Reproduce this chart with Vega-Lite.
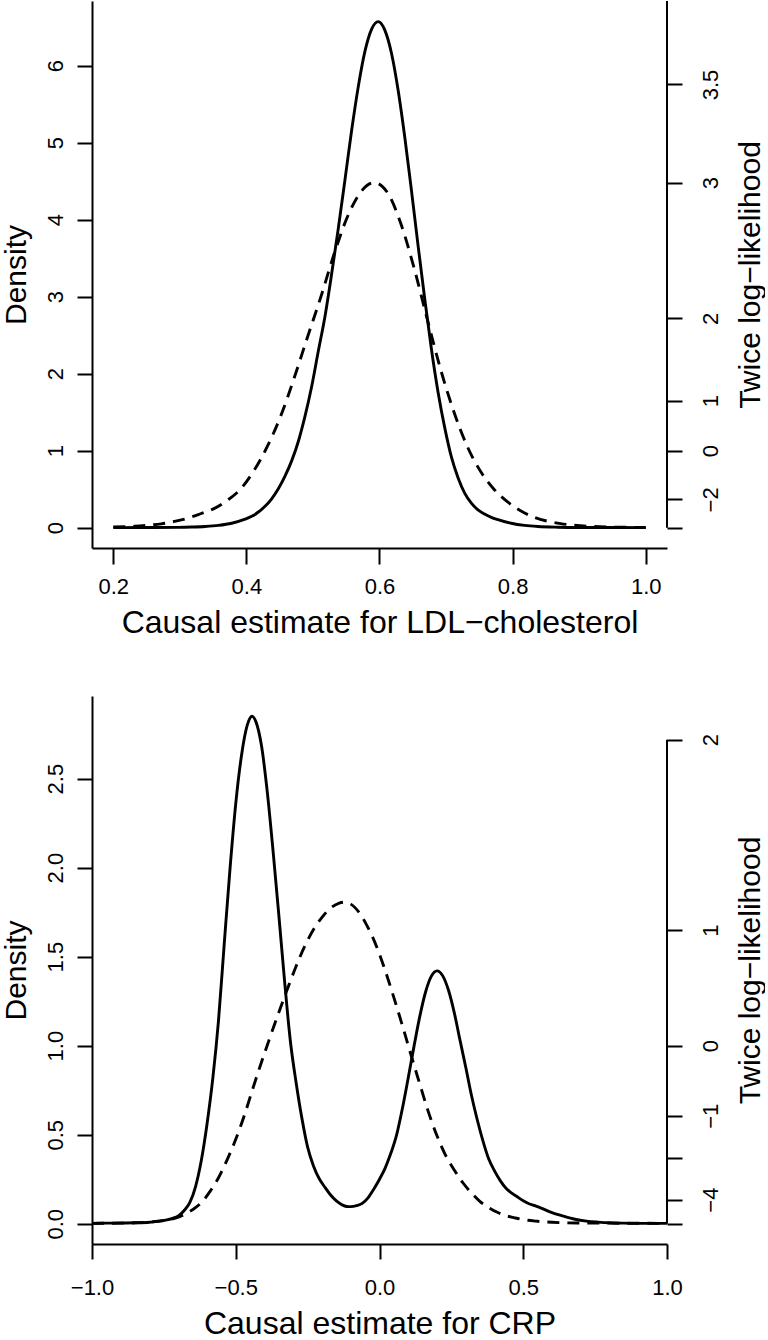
{
  "$schema": "https://vega.github.io/schema/vega-lite/v6.json",
  "padding": {"left": 0, "top": 0, "right": 0, "bottom": 0},
  "spacing": 58,
  "config": {
    "view": {"stroke": null},
    "font": "Liberation Sans",
    "axis": {
      "domainColor": "black", "domainWidth": 2, "tickColor": "black", "tickWidth": 2,
      "labelColor": "black", "labelFontSize": 22, "titleColor": "black", "titleFontWeight": "normal",
      "grid": false, "labelOverlap": false, "labelFlush": false, "labelBound": false
    }
  },
  "datasets": {
    "ldl": [
      {"x":0.2,"d":0.002,"c":"solid"},{"x":0.25,"d":0.003,"c":"solid"},{"x":0.298,"d":0.005,"c":"solid"},{"x":0.318,"d":0.009,"c":"solid"},{"x":0.338,"d":0.016,"c":"solid"},{"x":0.358,"d":0.03,"c":"solid"},{"x":0.378,"d":0.058,"c":"solid"},{"x":0.398,"d":0.111,"c":"solid"},{"x":0.408,"d":0.148,"c":"solid"},{"x":0.418,"d":0.204,"c":"solid"},{"x":0.428,"d":0.278,"c":"solid"},{"x":0.438,"d":0.376,"c":"solid"},{"x":0.448,"d":0.505,"c":"solid"},{"x":0.458,"d":0.669,"c":"solid"},{"x":0.468,"d":0.868,"c":"solid"},{"x":0.478,"d":1.12,"c":"solid"},{"x":0.488,"d":1.445,"c":"solid"},{"x":0.498,"d":1.83,"c":"solid"},{"x":0.508,"d":2.29,"c":"solid"},{"x":0.518,"d":2.74,"c":"solid"},{"x":0.528,"d":3.29,"c":"solid"},{"x":0.538,"d":3.88,"c":"solid"},{"x":0.548,"d":4.51,"c":"solid"},{"x":0.558,"d":5.15,"c":"solid"},{"x":0.568,"d":5.72,"c":"solid"},{"x":0.578,"d":6.18,"c":"solid"},{"x":0.588,"d":6.47,"c":"solid"},{"x":0.598,"d":6.57,"c":"solid"},{"x":0.608,"d":6.46,"c":"solid"},{"x":0.618,"d":6.16,"c":"solid"},{"x":0.628,"d":5.68,"c":"solid"},{"x":0.638,"d":5.07,"c":"solid"},{"x":0.648,"d":4.38,"c":"solid"},{"x":0.658,"d":3.66,"c":"solid"},{"x":0.668,"d":2.97,"c":"solid"},{"x":0.678,"d":2.32,"c":"solid"},{"x":0.688,"d":1.76,"c":"solid"},{"x":0.698,"d":1.3,"c":"solid"},{"x":0.708,"d":0.92,"c":"solid"},{"x":0.718,"d":0.65,"c":"solid"},{"x":0.728,"d":0.45,"c":"solid"},{"x":0.738,"d":0.32,"c":"solid"},{"x":0.748,"d":0.232,"c":"solid"},{"x":0.758,"d":0.177,"c":"solid"},{"x":0.768,"d":0.135,"c":"solid"},{"x":0.778,"d":0.105,"c":"solid"},{"x":0.798,"d":0.058,"c":"solid"},{"x":0.818,"d":0.03,"c":"solid"},{"x":0.838,"d":0.0155,"c":"solid"},{"x":0.868,"d":0.007,"c":"solid"},{"x":0.9,"d":0.004,"c":"solid"},{"x":0.95,"d":0.003,"c":"solid"},{"x":1.0,"d":0.002,"c":"solid"},
      {"x":0.2,"d":0.01,"c":"dashed"},{"x":0.232,"d":0.019,"c":"dashed"},{"x":0.252,"d":0.032,"c":"dashed"},{"x":0.272,"d":0.051,"c":"dashed"},{"x":0.292,"d":0.082,"c":"dashed"},{"x":0.312,"d":0.124,"c":"dashed"},{"x":0.332,"d":0.185,"c":"dashed"},{"x":0.352,"d":0.251,"c":"dashed"},{"x":0.372,"d":0.36,"c":"dashed"},{"x":0.392,"d":0.51,"c":"dashed"},{"x":0.412,"d":0.75,"c":"dashed"},{"x":0.432,"d":1.065,"c":"dashed"},{"x":0.452,"d":1.46,"c":"dashed"},{"x":0.472,"d":1.95,"c":"dashed"},{"x":0.492,"d":2.48,"c":"dashed"},{"x":0.512,"d":3.0,"c":"dashed"},{"x":0.532,"d":3.56,"c":"dashed"},{"x":0.552,"d":4.04,"c":"dashed"},{"x":0.572,"d":4.36,"c":"dashed"},{"x":0.592,"d":4.48,"c":"dashed"},{"x":0.612,"d":4.35,"c":"dashed"},{"x":0.632,"d":3.95,"c":"dashed"},{"x":0.652,"d":3.37,"c":"dashed"},{"x":0.672,"d":2.7,"c":"dashed"},{"x":0.692,"d":2.05,"c":"dashed"},{"x":0.712,"d":1.5,"c":"dashed"},{"x":0.732,"d":1.054,"c":"dashed"},{"x":0.752,"d":0.73,"c":"dashed"},{"x":0.772,"d":0.5,"c":"dashed"},{"x":0.792,"d":0.338,"c":"dashed"},{"x":0.812,"d":0.22,"c":"dashed"},{"x":0.832,"d":0.138,"c":"dashed"},{"x":0.852,"d":0.086,"c":"dashed"},{"x":0.872,"d":0.053,"c":"dashed"},{"x":0.892,"d":0.034,"c":"dashed"},{"x":0.92,"d":0.017,"c":"dashed"},{"x":0.95,"d":0.009,"c":"dashed"},{"x":1.0,"d":0.004,"c":"dashed"}
    ],
    "crp": [
      {"x":-1.0,"d":0.002,"c":"solid"},{"x":-0.95,"d":0.003,"c":"solid"},{"x":-0.9,"d":0.004,"c":"solid"},{"x":-0.85,"d":0.005,"c":"solid"},{"x":-0.8,"d":0.008,"c":"solid"},{"x":-0.78,"d":0.012,"c":"solid"},{"x":-0.76,"d":0.016,"c":"solid"},{"x":-0.74,"d":0.0215,"c":"solid"},{"x":-0.72,"d":0.0306,"c":"solid"},{"x":-0.7,"d":0.044,"c":"solid"},{"x":-0.68,"d":0.073,"c":"solid"},{"x":-0.66,"d":0.118,"c":"solid"},{"x":-0.64,"d":0.207,"c":"solid"},{"x":-0.62,"d":0.353,"c":"solid"},{"x":-0.6,"d":0.559,"c":"solid"},{"x":-0.58,"d":0.813,"c":"solid"},{"x":-0.56,"d":1.141,"c":"solid"},{"x":-0.54,"d":1.573,"c":"solid"},{"x":-0.52,"d":1.993,"c":"solid"},{"x":-0.5,"d":2.36,"c":"solid"},{"x":-0.48,"d":2.63,"c":"solid"},{"x":-0.46,"d":2.8,"c":"solid"},{"x":-0.443,"d":2.85,"c":"solid"},{"x":-0.43,"d":2.82,"c":"solid"},{"x":-0.41,"d":2.68,"c":"solid"},{"x":-0.39,"d":2.42,"c":"solid"},{"x":-0.37,"d":2.09,"c":"solid"},{"x":-0.35,"d":1.73,"c":"solid"},{"x":-0.33,"d":1.36,"c":"solid"},{"x":-0.31,"d":1.025,"c":"solid"},{"x":-0.29,"d":0.792,"c":"solid"},{"x":-0.27,"d":0.593,"c":"solid"},{"x":-0.25,"d":0.43,"c":"solid"},{"x":-0.23,"d":0.326,"c":"solid"},{"x":-0.21,"d":0.254,"c":"solid"},{"x":-0.19,"d":0.205,"c":"solid"},{"x":-0.17,"d":0.161,"c":"solid"},{"x":-0.15,"d":0.128,"c":"solid"},{"x":-0.13,"d":0.106,"c":"solid"},{"x":-0.114,"d":0.097,"c":"solid"},{"x":-0.1,"d":0.096,"c":"solid"},{"x":-0.08,"d":0.101,"c":"solid"},{"x":-0.06,"d":0.114,"c":"solid"},{"x":-0.04,"d":0.145,"c":"solid"},{"x":-0.02,"d":0.194,"c":"solid"},{"x":0.0,"d":0.25,"c":"solid"},{"x":0.02,"d":0.314,"c":"solid"},{"x":0.04,"d":0.398,"c":"solid"},{"x":0.06,"d":0.502,"c":"solid"},{"x":0.08,"d":0.65,"c":"solid"},{"x":0.1,"d":0.82,"c":"solid"},{"x":0.12,"d":0.996,"c":"solid"},{"x":0.14,"d":1.163,"c":"solid"},{"x":0.16,"d":1.3,"c":"solid"},{"x":0.18,"d":1.389,"c":"solid"},{"x":0.2,"d":1.42,"c":"solid"},{"x":0.22,"d":1.392,"c":"solid"},{"x":0.24,"d":1.311,"c":"solid"},{"x":0.26,"d":1.186,"c":"solid"},{"x":0.28,"d":1.031,"c":"solid"},{"x":0.3,"d":0.879,"c":"solid"},{"x":0.32,"d":0.72,"c":"solid"},{"x":0.34,"d":0.584,"c":"solid"},{"x":0.36,"d":0.464,"c":"solid"},{"x":0.38,"d":0.363,"c":"solid"},{"x":0.4,"d":0.297,"c":"solid"},{"x":0.42,"d":0.242,"c":"solid"},{"x":0.44,"d":0.199,"c":"solid"},{"x":0.46,"d":0.172,"c":"solid"},{"x":0.48,"d":0.15,"c":"solid"},{"x":0.5,"d":0.129,"c":"solid"},{"x":0.52,"d":0.112,"c":"solid"},{"x":0.54,"d":0.1015,"c":"solid"},{"x":0.56,"d":0.089,"c":"solid"},{"x":0.6,"d":0.062,"c":"solid"},{"x":0.64,"d":0.042,"c":"solid"},{"x":0.68,"d":0.025,"c":"solid"},{"x":0.72,"d":0.0147,"c":"solid"},{"x":0.76,"d":0.009,"c":"solid"},{"x":0.8,"d":0.005,"c":"solid"},{"x":0.85,"d":0.003,"c":"solid"},{"x":0.9,"d":0.002,"c":"solid"},{"x":1.0,"d":0.002,"c":"solid"},
      {"x":-1.0,"d":0.002,"c":"dashed"},{"x":-0.9,"d":0.003,"c":"dashed"},{"x":-0.85,"d":0.005,"c":"dashed"},{"x":-0.81,"d":0.0084,"c":"dashed"},{"x":-0.77,"d":0.0135,"c":"dashed"},{"x":-0.74,"d":0.02,"c":"dashed"},{"x":-0.71,"d":0.031,"c":"dashed"},{"x":-0.68,"d":0.051,"c":"dashed"},{"x":-0.65,"d":0.079,"c":"dashed"},{"x":-0.62,"d":0.1175,"c":"dashed"},{"x":-0.59,"d":0.18,"c":"dashed"},{"x":-0.56,"d":0.258,"c":"dashed"},{"x":-0.53,"d":0.359,"c":"dashed"},{"x":-0.5,"d":0.474,"c":"dashed"},{"x":-0.47,"d":0.609,"c":"dashed"},{"x":-0.44,"d":0.762,"c":"dashed"},{"x":-0.41,"d":0.91,"c":"dashed"},{"x":-0.38,"d":1.051,"c":"dashed"},{"x":-0.35,"d":1.188,"c":"dashed"},{"x":-0.32,"d":1.32,"c":"dashed"},{"x":-0.29,"d":1.446,"c":"dashed"},{"x":-0.26,"d":1.559,"c":"dashed"},{"x":-0.23,"d":1.651,"c":"dashed"},{"x":-0.2,"d":1.721,"c":"dashed"},{"x":-0.17,"d":1.773,"c":"dashed"},{"x":-0.14,"d":1.801,"c":"dashed"},{"x":-0.122,"d":1.806,"c":"dashed"},{"x":-0.1,"d":1.795,"c":"dashed"},{"x":-0.07,"d":1.746,"c":"dashed"},{"x":-0.04,"d":1.663,"c":"dashed"},{"x":-0.01,"d":1.556,"c":"dashed"},{"x":0.02,"d":1.421,"c":"dashed"},{"x":0.05,"d":1.27,"c":"dashed"},{"x":0.08,"d":1.111,"c":"dashed"},{"x":0.11,"d":0.946,"c":"dashed"},{"x":0.14,"d":0.785,"c":"dashed"},{"x":0.17,"d":0.628,"c":"dashed"},{"x":0.2,"d":0.494,"c":"dashed"},{"x":0.23,"d":0.384,"c":"dashed"},{"x":0.26,"d":0.302,"c":"dashed"},{"x":0.29,"d":0.23,"c":"dashed"},{"x":0.32,"d":0.1725,"c":"dashed"},{"x":0.35,"d":0.124,"c":"dashed"},{"x":0.38,"d":0.09,"c":"dashed"},{"x":0.41,"d":0.064,"c":"dashed"},{"x":0.44,"d":0.045,"c":"dashed"},{"x":0.47,"d":0.033,"c":"dashed"},{"x":0.5,"d":0.0226,"c":"dashed"},{"x":0.55,"d":0.0136,"c":"dashed"},{"x":0.6,"d":0.0083,"c":"dashed"},{"x":0.65,"d":0.005,"c":"dashed"},{"x":0.7,"d":0.004,"c":"dashed"},{"x":0.8,"d":0.003,"c":"dashed"},{"x":1.0,"d":0.002,"c":"dashed"}
    ]
  },
  "vconcat": [
    {
      "width": 575, "height": 547,
      "data": {"name": "ldl"},
      "layer": [
        {
          "encoding": {
            "x": {"field": "x", "type": "quantitative", "scale": {"domain": [0.168, 1.032], "nice": false, "zero": false},
                  "axis": {"values": [0.2, 0.4, 0.6, 0.8, 1.0], "format": ".1f", "title": "Causal estimate for LDL−cholesterol", "titleFontSize": 32, "tickSize": 16, "labelPadding": 29, "labelBaseline": "alphabetic", "titlePadding": 10}},
            "y": {"field": "d", "type": "quantitative", "scale": {"domain": [-0.263, 6.838], "nice": false, "zero": false},
                  "axis": {"values": [0, 1, 2, 3, 4, 5, 6], "format": "d", "title": "Density", "titleFontSize": 30, "tickSize": 15, "labelPadding": 15, "labelAngle": -90, "labelAlign": "center", "labelBaseline": "alphabetic", "titlePadding": 13}}
          },
          "layer": [
            {"transform": [{"filter": "datum.c == 'solid'"}], "mark": {"type": "line", "color": "black", "strokeWidth": 2.9, "interpolate": "monotone"}},
            {"transform": [{"filter": "datum.c == 'dashed'"}], "mark": {"type": "line", "color": "black", "strokeWidth": 2.9, "interpolate": "monotone", "strokeDash": [12, 8]}}
          ]
        },
        {
          "data": {"values": [{}]},
          "mark": {"type": "rule", "color": "black", "strokeWidth": 2},
          "encoding": {
            "x": {"datum": 1.032, "type": "quantitative",
                  "axis": {"values": [0.2, 0.4, 0.6, 0.8, 1.0], "format": ".1f", "title": "Causal estimate for LDL−cholesterol", "titleFontSize": 32, "tickSize": 16, "labelPadding": 29, "labelBaseline": "alphabetic", "titlePadding": 10}},
            "y": {"datum": 0, "type": "quantitative", "scale": {"domain": [-0.263, 6.838], "nice": false, "zero": false},
                  "axis": {"orient": "right", "values": [0, 0.3679, 1, 1.6487, 2.7183, 4.4817, 5.7546], "labelExpr": "datum.value < 0.01 ? '' : format(2 * log(datum.value), '.2~f')", "domain": false, "title": "Twice log−likelihood", "titleFontSize": 30, "titleAngle": -90, "titleBaseline": "top", "tickSize": 15, "labelPadding": 35, "labelAngle": -90, "labelAlign": "center", "labelBaseline": "alphabetic", "titlePadding": 14}},
            "y2": {"datum": 6.838}
          }
        }
      ],
      "resolve": {"scale": {"y": "independent"}, "axis": {"y": "independent"}}
    },
    {
      "width": 575, "height": 548,
      "data": {"name": "crp"},
      "layer": [
        {
          "encoding": {
            "x": {"field": "x", "type": "quantitative", "scale": {"domain": [-1, 1], "nice": false, "zero": false},
                  "axis": {"values": [-1, -0.5, 0, 0.5, 1], "format": ".1f", "title": "Causal estimate for CRP", "titleFontSize": 32, "tickSize": 15, "labelPadding": 35, "labelBaseline": "alphabetic", "titlePadding": 10}},
            "y": {"field": "d", "type": "quantitative", "scale": {"domain": [-0.114, 2.964], "nice": false, "zero": false},
                  "axis": {"values": [0, 0.5, 1, 1.5, 2, 2.5], "format": ".1f", "title": "Density", "titleFontSize": 30, "tickSize": 15, "labelPadding": 15, "labelAngle": -90, "labelAlign": "center", "labelBaseline": "alphabetic", "titlePadding": 13}}
          },
          "layer": [
            {"transform": [{"filter": "datum.c == 'solid'"}], "mark": {"type": "line", "color": "black", "strokeWidth": 2.9, "interpolate": "monotone"}},
            {"transform": [{"filter": "datum.c == 'dashed'"}], "mark": {"type": "line", "color": "black", "strokeWidth": 2.9, "interpolate": "monotone", "strokeDash": [12, 8]}}
          ]
        },
        {
          "data": {"values": [{}]},
          "mark": {"type": "rule", "color": "black", "strokeWidth": 2},
          "encoding": {
            "x": {"datum": 1, "type": "quantitative",
                  "axis": {"values": [-1, -0.5, 0, 0.5, 1], "format": ".1f", "title": "Causal estimate for CRP", "titleFontSize": 32, "tickSize": 15, "labelPadding": 35, "labelBaseline": "alphabetic", "titlePadding": 10}},
            "y": {"datum": 0, "type": "quantitative", "scale": {"domain": [-0.114, 2.964], "nice": false, "zero": false},
                  "axis": {"orient": "right", "values": [0, 0.1353, 0.3679, 0.6065, 1, 1.6487, 2.7183], "labelExpr": "datum.value < 0.01 || abs(datum.value - 0.3679) < 0.001 ? '' : format(2 * log(datum.value), '.2~f')", "domain": false, "title": "Twice log−likelihood", "titleFontSize": 30, "titleAngle": -90, "titleBaseline": "top", "tickSize": 15, "labelPadding": 35, "labelAngle": -90, "labelAlign": "center", "labelBaseline": "alphabetic", "titlePadding": 14}},
            "y2": {"datum": 2.7183}
          }
        }
      ],
      "resolve": {"scale": {"y": "independent"}, "axis": {"y": "independent"}}
    }
  ]
}
